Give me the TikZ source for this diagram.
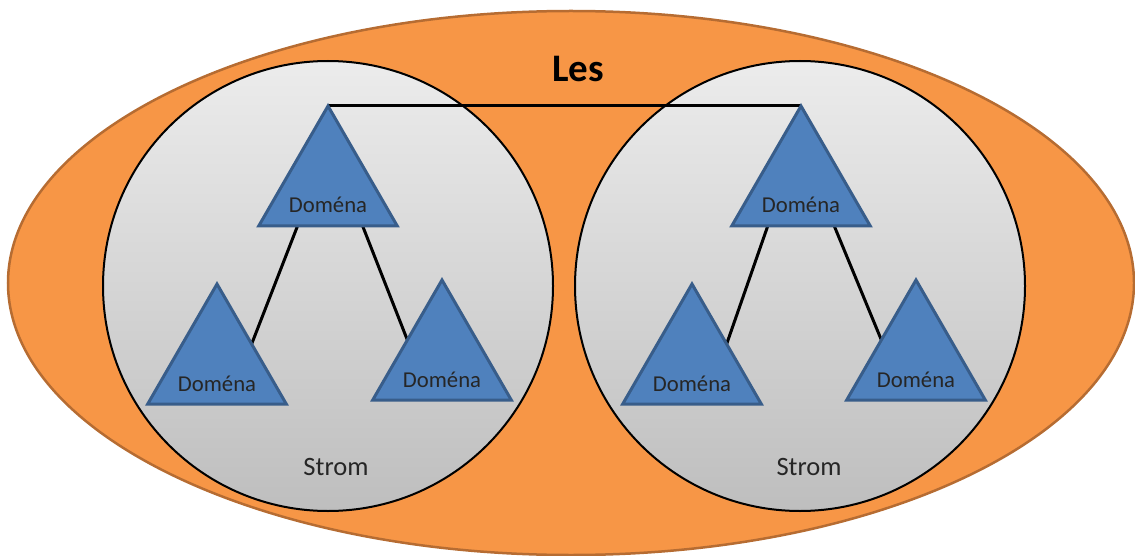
\documentclass[tikz,border=0pt]{standalone}
\usepackage{fontspec}
\setmainfont{Carlito}
\usetikzlibrary{shapes.geometric,calc}

\definecolor{forestfill}{RGB}{247,150,70}
\definecolor{forestline}{RGB}{182,108,50}
\definecolor{treetop}{RGB}{236,236,236}
\definecolor{treebot}{RGB}{190,190,190}
\definecolor{domfill}{RGB}{79,129,189}
\definecolor{domline}{RGB}{56,93,138}

\pgfdeclarelayer{bg}
\pgfdeclarelayer{mid}
\pgfsetlayers{bg,mid,main}

\tikzset{
  forestshape/.style={ellipse, fill=forestfill, draw=forestline, line width=2.5pt,
    minimum width=1126pt, minimum height=544pt, inner sep=0pt, outer sep=0pt},
  treeshape/.style={circle, draw=black, line width=2pt, top color=treetop,
    bottom color=treebot, minimum size=450pt, inner sep=0pt, outer sep=0pt},
  dombox/.style={regular polygon, regular polygon sides=3, fill=domfill,
    draw=domline, line width=3pt, minimum size=160pt, inner sep=0pt, outer sep=0pt},
  domtext/.style={anchor=base, inner sep=0pt, text=black!85,
    font=\fontsize{22.7}{27}\selectfont},
  treetext/.style={anchor=base, inner sep=0pt, text=black!85,
    font=\fontsize{26.5}{31}\selectfont},
  foresttext/.style={anchor=base, inner sep=0pt, text=black,
    font=\fontsize{39}{46}\selectfont\bfseries},
  linkline/.style={draw=black, line width=3pt}
}

\begin{document}
\begin{tikzpicture}[x=1pt, y=-1pt]
  \useasboundingbox (0,0) rectangle (1135,556);

  % forest and its two trees
  \begin{pgfonlayer}{bg}
    \node[forestshape] (les) at (571,283) {};
    \node[treeshape] (treeA) at (328,286) {};
    \node[treeshape] (treeB) at (800,286) {};
  \end{pgfonlayer}

  % domains of the first tree
  \node[dombox] (a1) at (328,186) {};
  \node[dombox] (a2) at (217,364) {};
  \node[dombox] (a3) at (442,360) {};
  % domains of the second tree
  \node[dombox] (b1) at (801,186) {};
  \node[dombox] (b2) at (692,364) {};
  \node[dombox] (b3) at (916,360) {};

  % trust links
  \begin{pgfonlayer}{mid}
    \draw[linkline] (a1.corner 1) -- (b1.corner 1);
    \draw[linkline] ($(a1.corner 2)!0.28!(a1.corner 3)$) -- (a2.side 3);
    \draw[linkline] ($(a1.corner 2)!0.75!(a1.corner 3)$) -- (a3.side 1);
    \draw[linkline] ($(b1.corner 2)!0.26!(b1.corner 3)$) -- (b2.side 3);
    \draw[linkline] ($(b1.corner 2)!0.74!(b1.corner 3)$) -- (b3.side 1);
  \end{pgfonlayer}

  % labels
  \foreach \d in {a1,a2,a3,b1,b2,b3}
    \node[domtext] (\d-t) at ($(\d.side 2)+(0,-13)$) {Doména};
  \node[treetext] (treeA-t) at ($(treeA.center)+(8,189)$) {Strom};
  \node[treetext] (treeB-t) at ($(treeB.center)+(9,189)$) {Strom};
  \node[foresttext] (les-t) at (578,82) {Les};
\end{tikzpicture}
\end{document}
